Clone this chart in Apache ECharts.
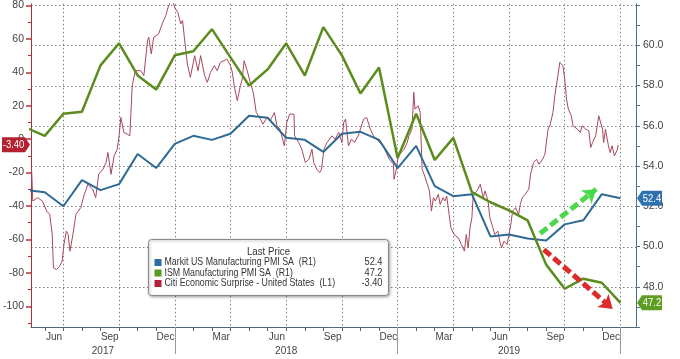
<!DOCTYPE html>
<html><head><meta charset="utf-8">
<script src="https://cdn.jsdelivr.net/npm/echarts@6/dist/echarts.min.js"></script>
<style>html,body{margin:0;padding:0;background:#fff}#c{width:680px;height:359px}</style>
</head><body><div id="c"></div>
<script>
// ---------- DATA ----------
const pmiMonths = ['2017-04','2017-05','2017-06','2017-07','2017-08','2017-09','2017-10','2017-11','2017-12',
  '2018-01','2018-02','2018-03','2018-04','2018-05','2018-06','2018-07','2018-08','2018-09','2018-10','2018-11','2018-12',
  '2019-01','2019-02','2019-03','2019-04','2019-05','2019-06','2019-07','2019-08','2019-09','2019-10','2019-11','2019-12'];
const markit = [52.8,52.7,52.0,53.3,52.8,53.1,54.6,53.9,55.1,
  55.5,55.3,55.6,56.5,56.4,55.4,55.3,54.7,55.6,55.7,55.3,53.9,
  55.0,53.0,52.5,52.6,50.5,50.6,50.4,50.3,51.1,51.3,52.6,52.4];
const ism = [55.9,55.5,56.6,56.7,59.0,60.1,58.5,57.8,59.5,
  59.7,60.8,59.4,58.0,58.8,60.1,58.5,60.9,59.5,57.6,58.9,54.4,
  56.6,54.3,55.4,52.7,52.2,51.8,51.3,49.1,47.9,48.4,48.2,47.2];
const citi = [['2017-05-10',-18],['2017-05-12',-37],['2017-05-20',-35],['2017-05-28',-37],['2017-06-04',-43],['2017-06-09',-45],['2017-06-13',-57],['2017-06-15',-77],['2017-06-20',-78],['2017-06-25',-76],['2017-06-29',-73],['2017-07-02',-63],['2017-07-06',-55],['2017-07-09',-57],['2017-07-12',-67],['2017-07-17',-57],['2017-07-22',-45],['2017-07-30',-41],['2017-08-05',-33],['2017-08-11',-27],['2017-08-19',-30],['2017-08-24',-35],['2017-08-29',-21],['2017-09-05',-18],['2017-09-10',-14],['2017-09-13',-8],['2017-09-18',-21],['2017-09-23',-10],['2017-09-28',-6],['2017-10-01',2],['2017-10-04',13],['2017-10-09',4],['2017-10-15',3],['2017-10-19',2],['2017-10-23',32],['2017-10-28',41],['2017-11-06',41],['2017-11-11',38],['2017-11-17',59],['2017-11-19',61],['2017-11-23',51],['2017-11-27',61],['2017-12-05',63],['2017-12-11',69],['2017-12-17',74],['2017-12-21',79],['2017-12-27',84],
['2018-01-02',78],['2018-01-06',76],['2018-01-11',69],['2018-01-14',71],['2018-01-17',61],['2018-01-22',45],['2018-01-27',37],['2018-02-03',50],['2018-02-08',41],['2018-02-12',50],['2018-02-18',38],['2018-02-22',34],['2018-02-27',40],['2018-03-05',44],['2018-03-10',41],['2018-03-15',46],['2018-03-21',47],['2018-03-26',48],['2018-04-01',44],['2018-04-04',40],['2018-04-07',32],['2018-04-12',23],['2018-04-17',32],['2018-04-20',36],['2018-04-23',47],['2018-04-28',41],['2018-05-03',34],['2018-05-08',28],['2018-05-13',16],['2018-05-20',12],['2018-05-24',9],['2018-05-31',13],['2018-06-05',11],['2018-06-12',16],['2018-06-16',8],['2018-06-21',6],['2018-06-28',-4],['2018-07-02',10],['2018-07-07',15],['2018-07-14',15],['2018-07-15',2],['2018-07-22',-2],['2018-07-27',-6],['2018-08-02',-14],['2018-08-08',-12],['2018-08-13',-6],['2018-08-16',-14],['2018-08-21',-18],['2018-08-26',-20],['2018-08-29',-18],['2018-09-02',-6],['2018-09-07',-2],['2018-09-10',-2],['2018-09-15',2],['2018-09-20',0],['2018-09-26',4],['2018-10-01',-2],['2018-10-04',10],['2018-10-07',12],['2018-10-12',-4],['2018-10-17',0],['2018-10-22',-2],['2018-10-28',2],['2018-11-01',6],['2018-11-06',12],['2018-11-11',13],['2018-11-14',14],['2018-11-17',6],['2018-11-22',2],['2018-11-27',0],['2018-12-02',-2],['2018-12-08',-4],['2018-12-13',-8],['2018-12-18',-12],['2018-12-25',-15],['2018-12-26',-24],['2018-12-30',-18],
['2019-01-02',-10],['2019-01-07',-8],['2019-01-12',-6],['2019-01-17',-2],['2019-01-20',2],['2019-01-25',6],['2019-01-28',28],['2019-01-30',18],['2019-02-04',20],['2019-02-07',16],['2019-02-10',-18],['2019-02-13',-21],['2019-02-16',-20],['2019-02-21',-31],['2019-02-24',-43],['2019-02-27',-35],['2019-03-02',-37],['2019-03-07',-33],['2019-03-10',-39],['2019-03-15',-35],['2019-03-18',-37],['2019-03-21',-34],['2019-03-25',-45],['2019-03-28',-53],['2019-04-02',-57],['2019-04-09',-59],['2019-04-14',-63],['2019-04-19',-67],['2019-04-22',-57],['2019-04-25',-65],['2019-04-28',-53],['2019-05-01',-47],['2019-05-03',-35],['2019-05-05',-33],['2019-05-11',-30],['2019-05-15',-27],['2019-05-20',-35],['2019-05-23',-31],['2019-05-28',-37],['2019-05-31',-47],['2019-06-05',-53],['2019-06-08',-57],['2019-06-13',-55],['2019-06-16',-61],['2019-06-19',-65],['2019-06-23',-61],['2019-06-28',-63],['2019-07-01',-57],['2019-07-04',-51],['2019-07-07',-43],['2019-07-12',-41],['2019-07-17',-45],['2019-07-20',-39],['2019-07-23',-35],['2019-07-28',-33],['2019-08-03',-30],['2019-08-06',-21],['2019-08-11',-14],['2019-08-16',-12],['2019-08-20',-15],['2019-08-26',-12],['2019-08-30',-9],['2019-09-04',6],['2019-09-07',8],['2019-09-12',16],['2019-09-15',26],['2019-09-20',38],['2019-09-23',46],['2019-09-28',44],['2019-10-01',36],['2019-10-04',24],['2019-10-07',18],['2019-10-12',14],['2019-10-15',8],['2019-10-22',6],['2019-10-27',4],['2019-10-30',8],['2019-11-05',6],['2019-11-10',5],['2019-11-13',-5],['2019-11-16',-2],['2019-11-21',2],['2019-11-26',14],['2019-11-29',13],['2019-12-02',6],['2019-12-04',-2],['2019-12-07',6],['2019-12-12',-4],['2019-12-15',-8],['2019-12-18',-4],['2019-12-22',-10],['2019-12-27',-6],['2019-12-28',-3.4]];
const labelMonths = ['2017-06','2017-09','2017-12','2018-03','2018-06','2018-09','2018-12','2019-03','2019-06','2019-09','2019-12'];
const yearLabels = ['2017','2018','2019'];
const leftTicks = [-100,-80,-60,-40,-20,0,20,40,60,80];
const leftMinorTicks = [-110,-90,-70,-50,-30,-10,10,30,50,70];
const rightTicks = [48,50,52,54,56,58,60];
const seriesNames = ['Markit US Manufacturing PMI SA  (R1)','ISM Manufacturing PMI SA  (R1)','Citi Economic Surprise - United States  (L1)'];
// annotation arrows: [date, right-axis value]
const arrowUp = [['2019-08-22',50.65],['2019-11-22',52.85]];
const arrowDown = [['2019-08-28',49.85],['2019-12-19',46.9]];

// ---------- HELPERS ----------
const monthNames = ['Jan','Feb','Mar','Apr','May','Jun','Jul','Aug','Sep','Oct','Nov','Dec'];
function dateToM(s){
  const p = s.split('-').map(Number);
  const y = p[0], mo = p[1], d = p[2] || 1;
  const dim = new Date(y, mo, 0).getDate();
  return (y-2017)*12 + (mo-1) + (d-1)/dim;
}
const xMin = dateToM('2017-05-09'), xMax = dateToM('2020-01-27');
const rMin = 46, rMax = 62.06, lMin = -112.4, lMax = 81;
const monthEnd = s => dateToM(s+'-01') + 1;
const markitData = pmiMonths.map((m,i)=>[monthEnd(m), markit[i]]);
const ismData = pmiMonths.map((m,i)=>[monthEnd(m), ism[i]]);
const citiData = citi.map(d=>[dateToM(d[0]), d[1]]);
const monthTicks = []; for(let k=Math.ceil(xMin); k<=xMax; k++) monthTicks.push(k);
const quarterLines = monthTicks.filter(k=>k%3===0);
const yearTicks = monthTicks.filter(k=>k%12===0);
const monthLabelPos = labelMonths.map(s=>dateToM(s+'-01')+0.5);
const yearLabelPos = yearLabels.map(y=>{ const a=Math.max(xMin,(+y-2017)*12), b=Math.min(xMax,(+y-2016)*12); return (a+b)/2; });
const rightAllTicks = []; for(let v=Math.ceil(rMin); v<=rMax; v++) rightAllTicks.push(v);
const rightGrid = rightAllTicks.filter(v=>v%2===0 && v>rMin);

const FONT = "'Liberation Sans',Arial,sans-serif";
const C_BLUE='#2f6a94', C_GREEN='#5b8c1e', C_RED='#a8475b';
const GRIDC = '#808080';
const lastMarkit = markit[markit.length-1], lastIsm = ism[ism.length-1], lastCiti = citi[citi.length-1][1];
const txtStyle = (t, al, size) => ({text:t, fill:'#333', font:size+'px '+FONT, align:al, textAlign:al, verticalAlign:'middle', textVerticalAlign:'middle'});
const gridLS = {color:GRIDC, type:[1.5,2.5], width:1};

const chart = echarts.init(document.getElementById('c'), null, {renderer:'canvas'});
chart.setOption({
  animation:false,
  backgroundColor:'#fff',
  grid:{left:28, right:44, top:0, bottom:32},
  xAxis:[
    {type:'value', min:xMin, max:xMax, position:'bottom',
     axisLine:{show:true, onZero:false, lineStyle:{color:'#55657a', width:1}},
     axisTick:{show:true, customValues:monthTicks, length:4, lineStyle:{color:'#55657a'}},
     axisLabel:{customValues:monthLabelPos, formatter:v=>monthNames[Math.floor(v+1e-6)%12], color:'#444', fontFamily:FONT, fontSize:10, margin:5},
     splitLine:{show:false}},
    {type:'value', min:xMin, max:xMax, position:'bottom',
     axisLine:{show:false, onZero:false},
     axisTick:{show:true, customValues:yearTicks, length:27, lineStyle:{color:'#9a9a9a'}},
     axisLabel:{customValues:yearLabelPos, formatter:v=>String(2017+Math.floor(v/12)), color:'#444', fontFamily:FONT, fontSize:10, margin:19},
     splitLine:{show:false}},
    {type:'value', min:xMin, max:xMax, position:'bottom',
     axisLine:{show:false, onZero:false},
     axisTick:{show:false, customValues:quarterLines},
     axisLabel:{show:false, customValues:quarterLines},
     splitLine:{show:true, lineStyle:gridLS}}
  ],
  yAxis:[
    {type:'value', min:lMin, max:lMax, position:'left',
     axisLine:{show:true, onZero:false, lineStyle:{color:'#b0303a'}},
     axisTick:{show:true, customValues:leftTicks, length:5, lineStyle:{color:'#b0303a', width:1.5}},
     axisLabel:{customValues:leftTicks, color:'#444', fontFamily:FONT, fontSize:10.5, margin:7},
     splitLine:{show:false}},
    {type:'value', min:rMin, max:rMax, position:'right',
     axisLine:{show:true, onZero:false, lineStyle:{color:'#4f6f8c'}},
     axisTick:{show:true, customValues:rightAllTicks, length:4, lineStyle:{color:'#4f6f8c'}},
     axisLabel:{customValues:rightTicks, formatter:v=>v.toFixed(1), color:'#444', fontFamily:FONT, fontSize:10.5, margin:7},
     splitLine:{show:false}},
    {type:'value', min:lMin, max:lMax, position:'left',
     axisLine:{show:false, onZero:false},
     axisTick:{show:true, customValues:leftMinorTicks, length:3, lineStyle:{color:'#b0303a'}},
     axisLabel:{show:false}, splitLine:{show:false}}
  ],
  series:[
    {type:'line', name:seriesNames[2], xAxisIndex:0, yAxisIndex:0, data:citiData, showSymbol:false, z:2,
     lineStyle:{color:C_RED, width:1}, itemStyle:{color:C_RED}},
    {type:'line', name:seriesNames[0], xAxisIndex:0, yAxisIndex:1, data:markitData, showSymbol:false, z:3,
     lineStyle:{color:C_BLUE, width:2}, itemStyle:{color:C_BLUE}},
    {type:'line', name:seriesNames[1], xAxisIndex:0, yAxisIndex:1, data:ismData, showSymbol:false, z:4,
     lineStyle:{color:C_GREEN, width:2.5}, itemStyle:{color:C_GREEN}},
    {type:'line', name:'arrows', xAxisIndex:0, yAxisIndex:1, data:[], z:5, silent:true,
     markLine:{silent:true, animation:false, symbol:['none','arrow'], symbolSize:[13,13], label:{show:false},
       data:[
         [{coord:[dateToM(arrowUp[0][0]),arrowUp[0][1]], lineStyle:{color:'#4cd84c', width:5, type:[9,4]}, itemStyle:{color:'#4cd84c'}},
          {coord:[dateToM(arrowUp[1][0]),arrowUp[1][1]]}],
         [{coord:[dateToM(arrowDown[0][0]),arrowDown[0][1]], lineStyle:{color:'#dd2a2a', width:5, type:[9,4]}, itemStyle:{color:'#dd2a2a'}},
          {coord:[dateToM(arrowDown[1][0]),arrowDown[1][1]]}]
       ]}}
  ]
});

// positions through the axes' own scales
const rightX = chart.convertToPixel({xAxisIndex:0}, xMax);
const leftX = chart.convertToPixel({xAxisIndex:0}, xMin);
const hGrid = rightGrid.map(v=>{
  const y = Math.round(chart.convertToPixel({yAxisIndex:1}, v)) + 0.5;
  return {type:'line', z:0, silent:true, shape:{x1:leftX, y1:y, x2:rightX, y2:y},
    style:{stroke:GRIDC, lineWidth:1, lineDash:[1.5,2.5]}};
});
function rightTag(val, bg){
  const y = chart.convertToPixel({yAxisIndex:1}, val);
  const x0 = rightX + 1, w = 25, h = 15;
  return {type:'group', children:[
    {type:'polygon', z:50, shape:{points:[[x0,y],[x0+5,y-h/2],[x0+w,y-h/2],[x0+w,y+h/2],[x0+5,y+h/2]]}, style:{fill:bg}},
    {type:'text', z:51, x:x0+5+(w-5)/2, y:y+0.5, scaleX:0.9, style:{text:val.toFixed(1), fill:'#fff', font:'10.5px '+FONT, align:'center', textAlign:'center', verticalAlign:'middle', textVerticalAlign:'middle'}}
  ]};
}
function leftTag(val, bg){
  const y = chart.convertToPixel({yAxisIndex:0}, val);
  const x1 = leftX - 1, w = 28, h = 15;
  return {type:'group', children:[
    {type:'polygon', z:50, shape:{points:[[x1,y],[x1-5,y-h/2],[x1-w,y-h/2],[x1-w,y+h/2],[x1-5,y+h/2]]}, style:{fill:bg}},
    {type:'text', z:51, x:x1-5-(w-5)/2, y:y+0.5, scaleX:0.9, style:{text:val.toFixed(2), fill:'#fff', font:'10.5px '+FONT, align:'center', textAlign:'center', verticalAlign:'middle', textVerticalAlign:'middle'}}
  ]};
}
const legendGroup = {type:'group', left:148, top:239, children:[
    {type:'rect', z:100, shape:{x:0,y:0,width:240,height:56,r:3},
     style:{fill:'#fff', stroke:'#8a8a8a', lineWidth:1, shadowBlur:3, shadowOffsetX:1, shadowOffsetY:1, shadowColor:'rgba(0,0,0,0.35)'}},
    {type:'text', z:101, x:120, y:12, scaleX:0.88, style:txtStyle('Last Price','center',11)},
    {type:'rect', z:101, shape:{x:6,y:19.5,width:7,height:7}, style:{fill:'#2f6ea5'}},
    {type:'rect', z:101, shape:{x:6,y:30,width:7,height:7}, style:{fill:'#5a9a20'}},
    {type:'rect', z:101, shape:{x:6,y:40.5,width:7,height:7}, style:{fill:'#b0203a'}},
    {type:'text', z:101, x:16, y:23, scaleX:0.84, style:txtStyle(seriesNames[0],'left',10.5)},
    {type:'text', z:101, x:16, y:33.5, scaleX:0.84, style:txtStyle(seriesNames[1],'left',10.5)},
    {type:'text', z:101, x:16, y:44, scaleX:0.84, style:txtStyle(seriesNames[2],'left',10.5)},
    {type:'text', z:101, x:234, y:23, scaleX:0.88, style:txtStyle(lastMarkit.toFixed(1),'right',10.5)},
    {type:'text', z:101, x:234, y:33.5, scaleX:0.88, style:txtStyle(lastIsm.toFixed(1),'right',10.5)},
    {type:'text', z:101, x:234, y:44, scaleX:0.88, style:txtStyle(lastCiti.toFixed(2),'right',10.5)}
  ]};
chart.setOption({graphic:[...hGrid, legendGroup, rightTag(lastMarkit,'#2f72ad'), rightTag(lastIsm,'#5f9d22'), leftTag(lastCiti,'#b3202e')]});
</script></body></html>
